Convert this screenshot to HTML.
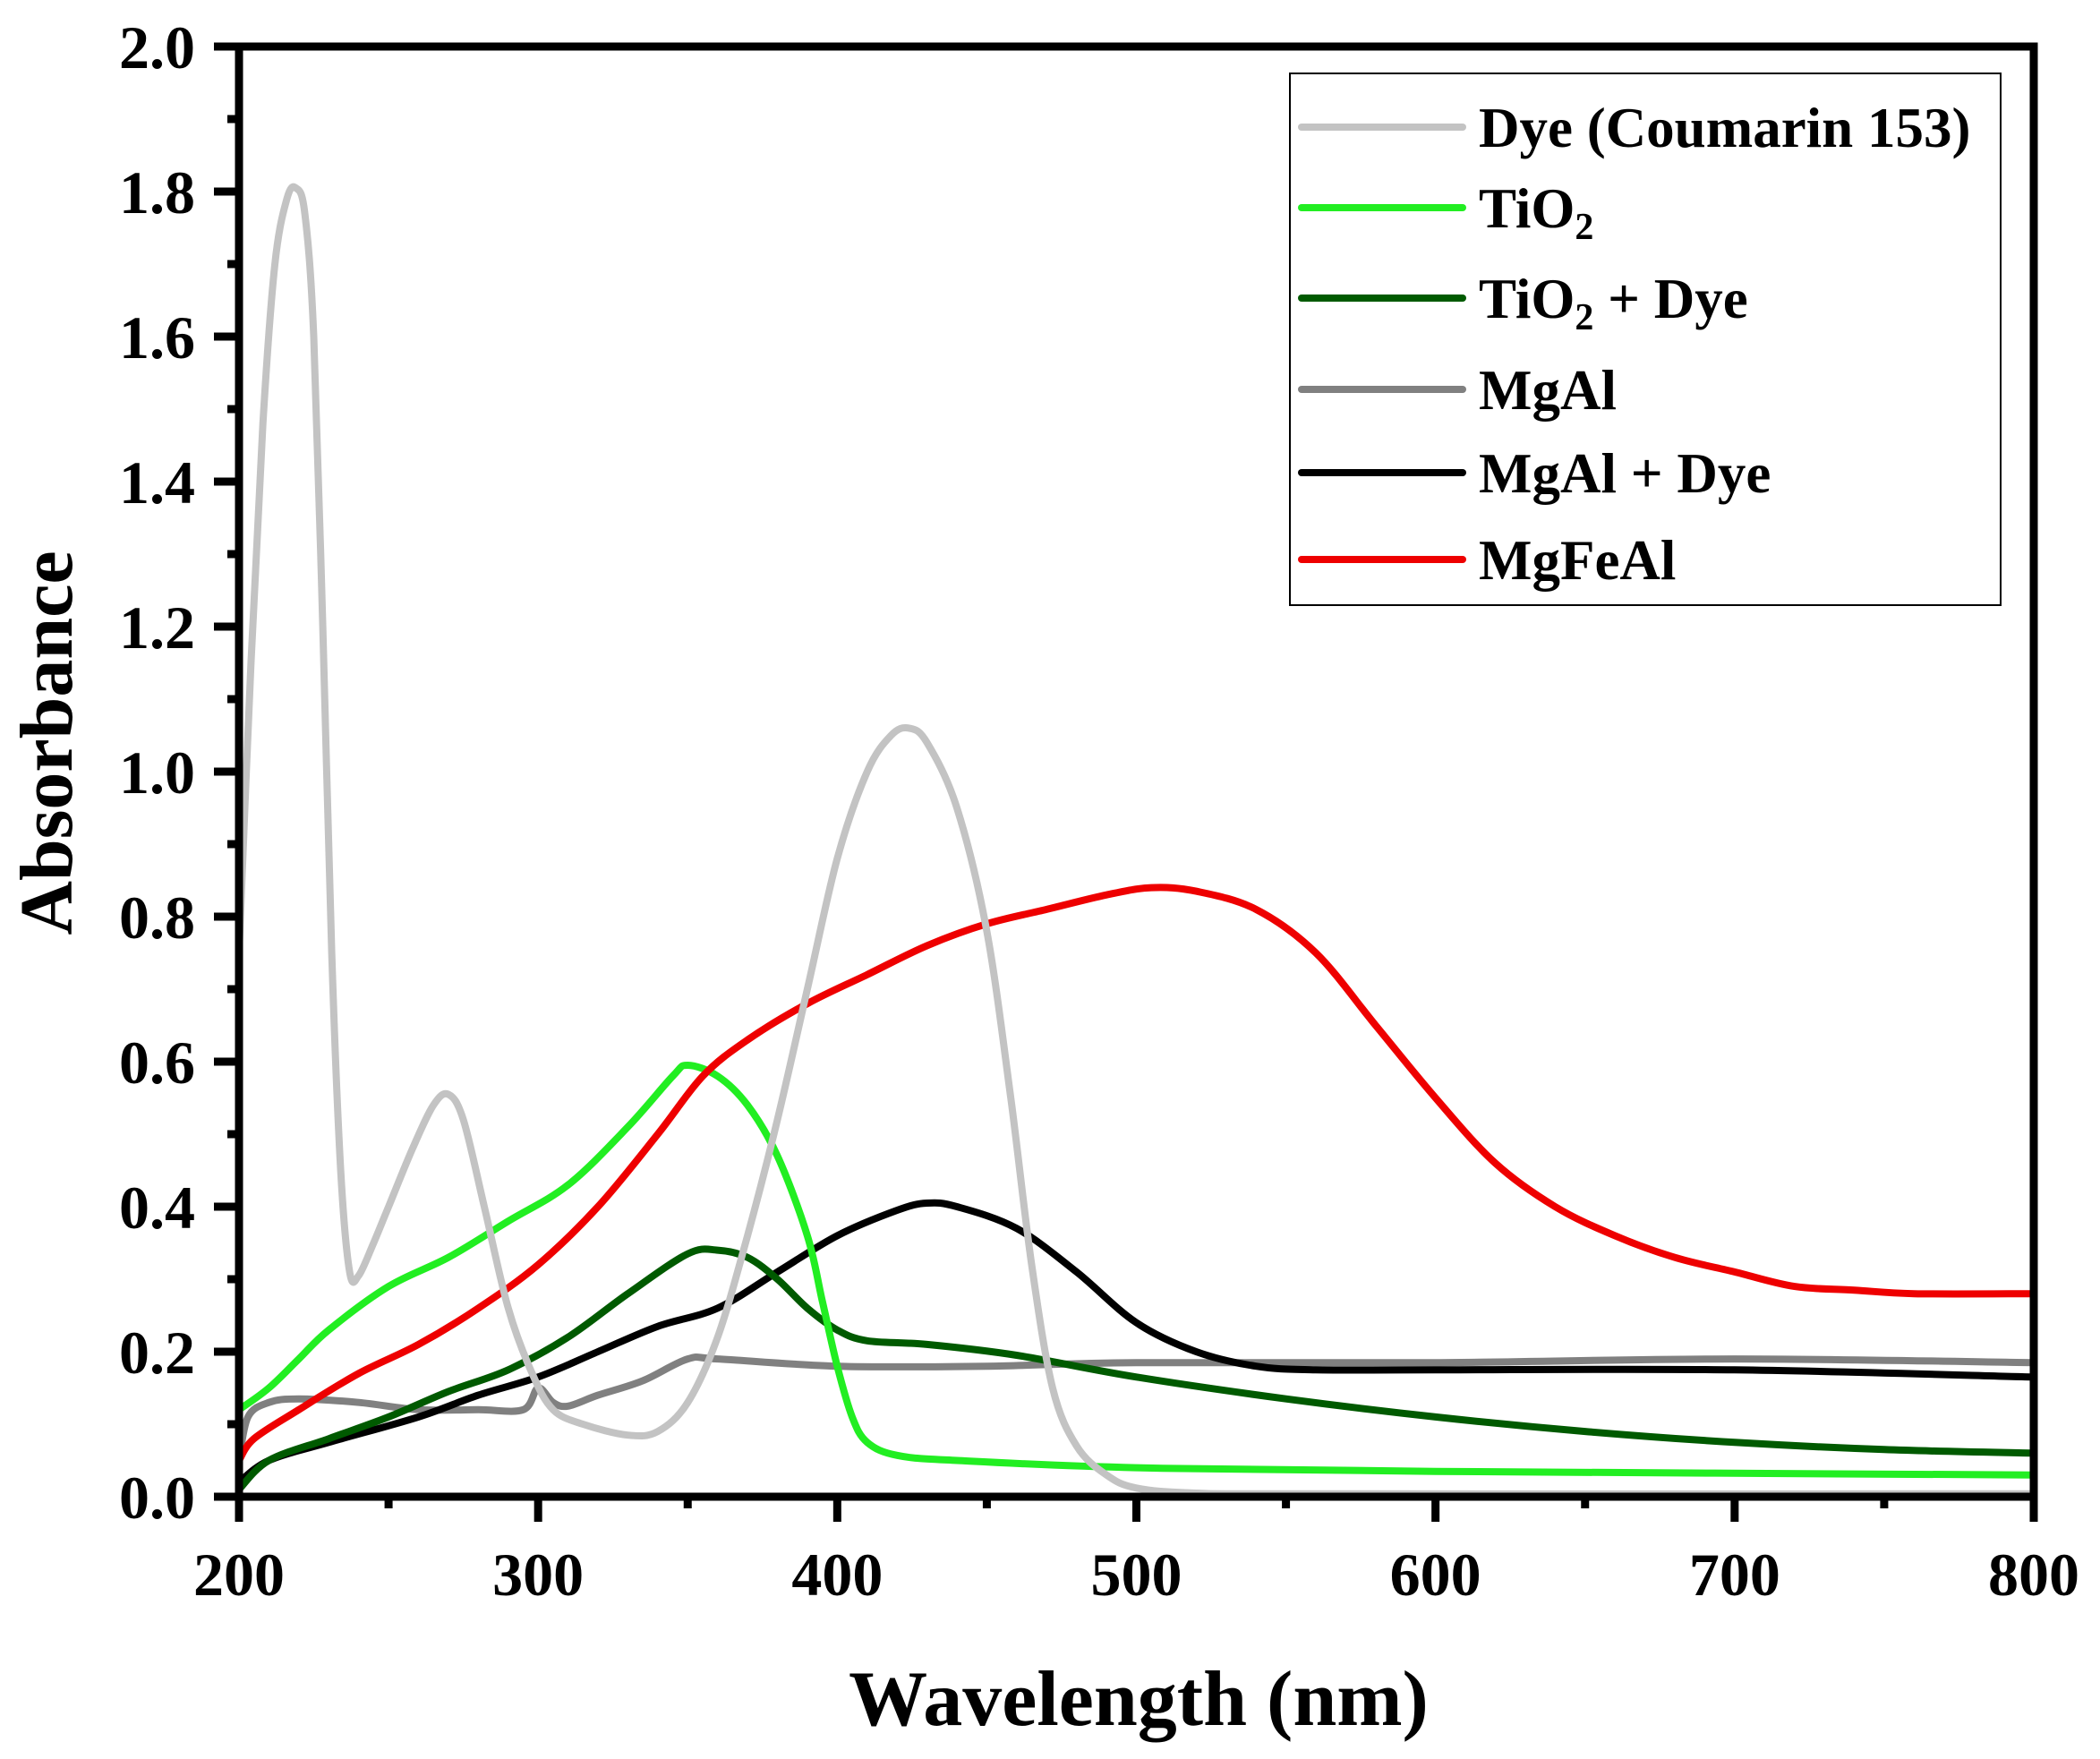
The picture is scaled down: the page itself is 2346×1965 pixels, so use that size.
<!DOCTYPE html>
<html><head><meta charset="utf-8"><style>
html,body{margin:0;padding:0;background:#fff;}
svg{display:block;}
text{font-family:"Liberation Serif",serif;font-weight:bold;fill:#000;}
</style></head><body>
<svg id="s" width="2346" height="1965" viewBox="0 0 2346 1965" xmlns="http://www.w3.org/2000/svg">
<rect width="2346" height="1965" fill="#fff"/>
<g id="series" fill="none" stroke-width="8" stroke-linejoin="round" stroke-linecap="round"></g>
<g id="axes"></g>
<rect x="1441" y="82" width="794" height="594" fill="#fff" stroke="#000" stroke-width="2"/>
<g stroke-width="8" stroke-linecap="round">
<line x1="1454" y1="142" x2="1634" y2="142" stroke="#c3c3c3"/>
<line x1="1454" y1="232" x2="1634" y2="232" stroke="#22ee22"/>
<line x1="1454" y1="333" x2="1634" y2="333" stroke="#005a00"/>
<line x1="1454" y1="435" x2="1634" y2="435" stroke="#808080"/>
<line x1="1454" y1="528" x2="1634" y2="528" stroke="#000"/>
<line x1="1454" y1="625" x2="1634" y2="625" stroke="#ee0000"/>
</g>
<g font-size="63">
<text x="1652" y="164">Dye (Coumarin 153)</text>
<text x="1652" y="254">TiO<tspan font-size="42" dy="13">2</tspan></text>
<text x="1652" y="355">TiO<tspan font-size="42" dy="13">2</tspan><tspan dy="-13"> + Dye</tspan></text>
<text x="1652" y="457">MgAl</text>
<text x="1652" y="550">MgAl + Dye</text>
<text x="1652" y="647">MgFeAl</text>
</g>
<text x="1272" y="1927" font-size="88" text-anchor="middle">Wavelength (nm)</text>
<text transform="translate(80,830) rotate(-90)" font-size="84" text-anchor="middle">Absorbance</text>
</svg>
<script>
const L=267,R=2272,T=52,B=1672;
const X=v=>L+(v-200)/600*(R-L), Y=v=>B-v/2*(B-T);
const NS="http://www.w3.org/2000/svg";
function path(pts){
  const p=pts.map(a=>[X(a[0]),Y(a[1])]);
  let d="M"+p[0][0].toFixed(1)+","+p[0][1].toFixed(1);
  for(let i=0;i<p.length-1;i++){
    const p0=p[Math.max(0,i-1)],p1=p[i],p2=p[i+1],p3=p[Math.min(p.length-1,i+2)];
    const c1=[p1[0]+(p2[0]-p0[0])/6,p1[1]+(p2[1]-p0[1])/6];
    const c2=[p2[0]-(p3[0]-p1[0])/6,p2[1]-(p3[1]-p1[1])/6];
    d+="C"+c1.map(v=>v.toFixed(1))+" "+c2.map(v=>v.toFixed(1))+" "+p2.map(v=>v.toFixed(1));
  }
  return d;
}
const S=[
["#808080",[[200,0.05],[203,0.11],[210,0.13],[220,0.135],[240,0.13],[260,0.12],[280,0.12],[295,0.12],[300,0.15],[305,0.13],[310,0.125],[320,0.14],[335,0.16],[350,0.19],[360,0.19],[400,0.18],[450,0.18],[500,0.185],[600,0.185],[700,0.19],[800,0.185]]],
["#000000",[[200,0.02],[210,0.05],[230,0.075],[260,0.11],[280,0.14],[300,0.165],[320,0.2],[340,0.235],[360,0.26],[380,0.31],[400,0.36],[420,0.395],[430,0.405],[440,0.40],[460,0.37],[480,0.31],[500,0.24],[520,0.20],[540,0.18],[560,0.175],[600,0.175],[700,0.175],[800,0.165]]],
["#005a00",[[200,0.01],[210,0.05],[230,0.08],[250,0.11],[270,0.145],[290,0.175],[310,0.22],[330,0.28],[350,0.335],[360,0.34],[370,0.33],[380,0.30],[390,0.26],[400,0.23],[410,0.215],[430,0.21],[460,0.195],[500,0.165],[550,0.135],[600,0.11],[650,0.09],[700,0.075],[750,0.065],[800,0.06]]],
["#22ee22",[[200,0.12],[210,0.15],[220,0.19],[230,0.23],[250,0.29],[270,0.33],[290,0.38],[310,0.43],[330,0.51],[345,0.58],[350,0.595],[360,0.58],[370,0.54],[380,0.47],[390,0.36],[395,0.27],[400,0.18],[405,0.11],[410,0.075],[420,0.057],[440,0.05],[500,0.04],[600,0.035],[800,0.03]]],
["#ee0000",[[200,0.05],[205,0.08],[220,0.12],[240,0.17],[260,0.21],[280,0.26],[300,0.32],[320,0.40],[340,0.50],[355,0.58],[370,0.63],[390,0.68],[410,0.72],[430,0.76],[450,0.79],[470,0.81],[490,0.83],[505,0.84],[520,0.835],[540,0.81],[560,0.75],[580,0.65],[600,0.55],[620,0.46],[640,0.40],[660,0.36],[680,0.33],[700,0.31],[720,0.29],[740,0.285],[760,0.28],[800,0.28]]],
["#c3c3c3",[[200,0.75],[204,1.15],[208,1.48],[212,1.70],[216,1.79],[219,1.805],[222,1.77],[225,1.6],[228,1.2],[231,0.75],[234,0.45],[237,0.31],[240,0.305],[245,0.35],[250,0.40],[258,0.48],[265,0.54],[270,0.555],[275,0.52],[282,0.40],[290,0.26],[298,0.17],[305,0.12],[315,0.10],[330,0.085],[340,0.09],[350,0.13],[360,0.22],[370,0.36],[380,0.52],[390,0.70],[400,0.88],[410,1.0],[418,1.05],[424,1.06],[430,1.04],[440,0.95],[450,0.78],[458,0.55],[465,0.32],[472,0.15],[480,0.07],[490,0.03],[500,0.012],[520,0.005],[560,0.004],[800,0.004]]]
];
const g=document.getElementById("series");
S.forEach(s=>{const e=document.createElementNS(NS,"path");e.setAttribute("d",path(s[1]));e.setAttribute("stroke",s[0]);g.appendChild(e);});
const a=document.getElementById("axes");
let h=`<rect x="${L}" y="${T}" width="${R-L}" height="${B-T}" fill="none" stroke="#000" stroke-width="9"/>`;
for(let v=0;v<=2.0001;v+=0.1){const y=Y(v);const maj=Math.round(v*10)%2==0;h+=`<line x1="${L}" y1="${y}" x2="${L-(maj?28:13)}" y2="${y}" stroke="#000" stroke-width="9"/>`;
 if(maj)h+=`<text x="218" y="${y+24}" font-size="68" text-anchor="end">${v.toFixed(1)}</text>`;}
for(let v=200;v<=800;v+=50){const x=X(v);const maj=v%100==0;h+=`<line x1="${x}" y1="${B}" x2="${x}" y2="${B+(maj?28:13)}" stroke="#000" stroke-width="9"/>`;
 if(maj)h+=`<text x="${x}" y="${B+110}" font-size="68" text-anchor="middle">${v}</text>`;}
a.innerHTML=h;
</script>
</body></html>
